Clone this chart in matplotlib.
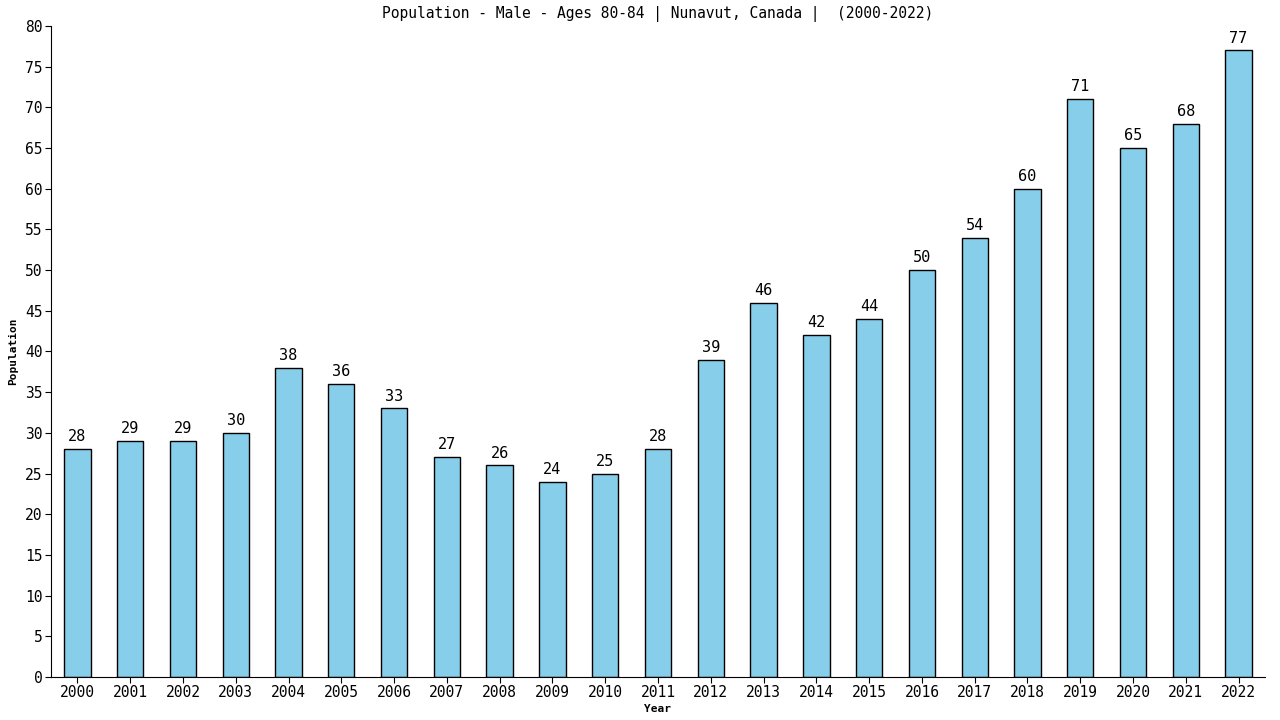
import matplotlib
matplotlib.use("Agg")
import matplotlib.pyplot as plt

years = [str(y) for y in range(2000, 2023)]
population = [28, 29, 29, 30, 38, 36, 33, 27, 26, 24, 25, 28, 39, 46, 42, 44, 50, 54, 60, 71, 65, 68, 77]

plt.rcParams['font.family'] = ['DejaVu Sans Mono']

fig = plt.figure(figsize=(12.8, 7.2), dpi=100)
ax = fig.add_axes([51 / 1280, 1 - 677 / 720, (1265 - 51) / 1280, (677 - 26) / 720])

x = list(range(len(years)))
ax.bar(x, population, width=0.5, color='#87ceeb', edgecolor='black', linewidth=1)
for xi, v in zip(x, population):
    ax.text(xi, v + 0.6, str(v), ha='center', va='bottom', fontsize=11)

ax.set_xlim(-0.5, len(years) - 0.5)
ax.set_ylim(0, 80)
ax.set_yticks(range(0, 81, 5))
ax.set_xticks(x)
ax.set_xticklabels(years)
ax.tick_params(labelsize=10.5, length=4, pad=2)
ax.spines['top'].set_visible(False)
ax.spines['right'].set_visible(False)

ax.set_title("Population - Male - Ages 80-84 | Nunavut, Canada |  (2000-2022)", fontsize=10.5, pad=6)
ax.set_xlabel("Year", fontsize=8, fontweight='bold', labelpad=3)
ax.set_ylabel("Population", fontsize=8, fontweight='bold', labelpad=5)

fig.savefig("out.png", dpi=100)
